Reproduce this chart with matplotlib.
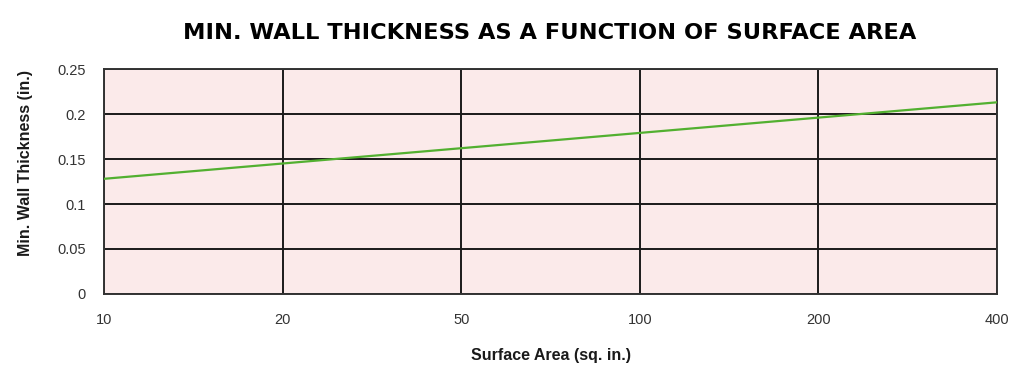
import matplotlib.pyplot as plt

surface_area = ['10', '20', '50', '100', '200', '400']
min_thickness = [0.128, 0.145, 0.162, 0.179, 0.196, 0.213]
y_ticks = [0, 0.05, 0.1, 0.15, 0.2, 0.25]
y_tick_labels = ['0', '0.05', '0.1', '0.15', '0.2', '0.25']

plt.rcParams['font.family'] = ['Liberation Sans', 'DejaVu Sans']

fig = plt.figure(figsize=(10.24, 3.79), dpi=100)
ax = fig.add_axes([0.1016, 0.2243, 0.872, 0.5936])
ax.set_facecolor('#fbeaea')

ax.plot(surface_area, min_thickness, color='#52b030', linewidth=1.6, zorder=3)

ax.set_xlim(0, len(surface_area) - 1)
ax.set_ylim(0, 0.25)
ax.set_yticks(y_ticks)
ax.set_yticklabels(y_tick_labels)

ax.grid(True, color='#1a1a1a', linewidth=1.4, zorder=1)
ax.set_axisbelow(True)
for s in ax.spines.values():
    s.set_color('#333333')
    s.set_linewidth(1.4)

ax.tick_params(length=0, labelsize=10.5, labelcolor='#333333')
ax.tick_params(axis='y', pad=13)
ax.tick_params(axis='x', pad=14)

ax.set_xlabel('Surface Area (sq. in.)', fontsize=11.5, fontweight='bold',
              color='#1a1a1a', labelpad=15)
fig.text(0.025, 0.57, 'Min. Wall Thickness (in.)', rotation=90, fontsize=11.5,
         fontweight='bold', color='#1a1a1a', ha='center', va='center')
fig.text(0.537, 0.913, 'MIN. WALL THICKNESS AS A FUNCTION OF SURFACE AREA',
         fontsize=16.2, fontweight='bold', family='DejaVu Sans',
         color='black', ha='center', va='center')

fig.savefig('out.png', dpi=100, facecolor='white')
